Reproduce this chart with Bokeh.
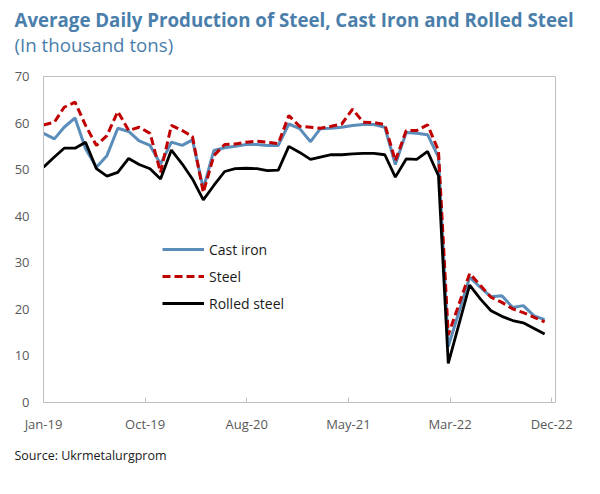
import pandas as pd
from bokeh.plotting import figure
from bokeh.models import Range1d, FixedTicker, DatetimeTickFormatter, Title, Legend, LegendItem
from bokeh.embed import file_html
from bokeh.resources import INLINE

# Monthly observations (April 2022 is not plotted in the source: the lines run straight from Mar-22 to May-22)
months = [
    "2019-01", "2019-02", "2019-03", "2019-04", "2019-05", "2019-06", "2019-07", "2019-08", "2019-09", "2019-10", "2019-11", "2019-12",
    "2020-01", "2020-02", "2020-03", "2020-04", "2020-05", "2020-06", "2020-07", "2020-08", "2020-09", "2020-10", "2020-11", "2020-12",
    "2021-01", "2021-02", "2021-03", "2021-04", "2021-05", "2021-06", "2021-07", "2021-08", "2021-09", "2021-10", "2021-11", "2021-12",
    "2022-01", "2022-02", "2022-03", "2022-05", "2022-06", "2022-07", "2022-08", "2022-09", "2022-10", "2022-11", "2022-12",
]

cast_iron = [
    57.8, 56.6, 59.1, 61.1, 54.5, 50.5, 53.0, 58.9, 58.2, 56.2, 55.2, 51.2,
    55.9, 55.2, 56.4, 45.9, 54.1, 54.7, 55.0, 55.4, 55.4, 55.2, 55.2, 59.8,
    58.8, 56.0, 58.8, 58.9, 59.1, 59.5, 59.7, 59.7, 59.1, 51.1, 58.0, 57.8,
    57.5, 52.7, 12.0, 26.9, 24.7, 22.7, 22.9, 20.4, 20.8, 18.6, 17.8,
]

steel = [
    59.6, 60.2, 63.4, 64.5, 59.5, 55.2, 57.3, 62.5, 58.4, 59.1, 57.8, 49.4,
    59.5, 58.4, 57.1, 45.1, 53.0, 55.4, 55.5, 55.9, 56.1, 55.9, 55.6, 61.6,
    59.3, 59.1, 58.9, 59.3, 59.8, 63.0, 60.2, 60.1, 59.7, 51.9, 58.4, 58.4,
    59.6, 54.1, 14.5, 27.7, 25.1, 22.6, 21.5, 20.1, 19.3, 18.3, 17.3,
]

rolled_steel = [
    50.5, 52.7, 54.6, 54.6, 55.9, 50.2, 48.6, 49.4, 52.4, 51.1, 50.2, 48.0,
    54.2, 51.2, 48.0, 43.5, 46.6, 49.6, 50.2, 50.3, 50.2, 49.8, 49.9, 55.0,
    53.7, 52.2, 52.7, 53.2, 53.2, 53.4, 53.5, 53.5, 53.2, 48.4, 52.3, 52.2,
    53.9, 48.7, 8.4, 25.2, 22.2, 19.7, 18.5, 17.6, 17.1, 15.9, 14.7,
]

x_tick_dates = ["2019-01-01", "2019-10-18", "2020-08-03", "2021-05-20", "2022-03-06", "2022-12-21"]
y_ticks = [0, 10, 20, 30, 40, 50, 60, 70]

dates = pd.to_datetime(months)
tick_ms = [pd.Timestamp(d).value / 1e6 for d in x_tick_dates]

FONT = "Open Sans"
TITLE_COLOR = "#4a7eab"

p = figure(
    width=584, height=478,
    x_axis_type="datetime",
    x_range=Range1d(pd.Timestamp("2019-01-01").value / 1e6, pd.Timestamp("2023-01-01").value / 1e6),
    y_range=Range1d(0, 70),
    output_backend="svg", toolbar_location=None,
    min_border_left=43, min_border_right=29, min_border_top=76, min_border_bottom=76,
)
p.xgrid.visible = False
p.ygrid.visible = False
p.outline_line_color = "#bfbfbf"
p.outline_line_width = 1

r1 = p.line(dates, cast_iron, line_color="#5b8dbb", line_width=3)
r2 = p.line(dates, steel, line_color="#c00000", line_width=3, line_dash="8 4")
r3 = p.line(dates, rolled_steel, line_color="#000000", line_width=2.8)

xa = p.xaxis[0]
xa.ticker = FixedTicker(ticks=tick_ms)
xa.formatter = DatetimeTickFormatter(
    milliseconds="%b-%y", seconds="%b-%y", minsec="%b-%y", minutes="%b-%y", hourmin="%b-%y",
    hours="%b-%y", days="%b-%y", months="%b-%y", years="%b-%y")
xa.axis_line_color = "#bfbfbf"
xa.major_tick_line_color = "#bfbfbf"
xa.major_tick_in = 5
xa.major_tick_out = 0
xa.minor_tick_line_color = None
xa.major_label_text_font = FONT
xa.major_label_text_font_size = "13px"
xa.major_label_text_color = "#595959"
xa.major_label_standoff = 12

ya = p.yaxis[0]
ya.ticker = FixedTicker(ticks=y_ticks)
ya.axis_line_color = "#bfbfbf"
ya.major_tick_line_color = None
ya.major_tick_in = 0
ya.major_tick_out = 0
ya.minor_tick_line_color = None
ya.major_label_text_font = FONT
ya.major_label_text_font_size = "13px"
ya.major_label_text_color = "#595959"
ya.major_label_standoff = 14

legend = Legend(
    items=[LegendItem(label="Cast iron", renderers=[r1]),
           LegendItem(label="Steel", renderers=[r2]),
           LegendItem(label="Rolled steel", renderers=[r3])],
    location=(119, 89),
    glyph_width=42, glyph_height=20, label_height=20, spacing=7,
    padding=0, margin=0, label_standoff=5,
    border_line_alpha=0, background_fill_alpha=0,
    label_text_font=FONT, label_text_font_size="14px", label_text_color="#1a1a1a",
)
p.add_layout(legend, "center")

# above panel is stacked from the frame outward: spacer, subtitle, main title
p.add_layout(Title(text=" ", align="left", standoff=4, text_font=FONT,
                   text_font_size="10px"), "above")
p.add_layout(Title(text="(In thousand tons)", align="left", offset=-29, standoff=0,
                   text_font=FONT, text_font_size="18.7px", text_font_style="normal",
                   text_color=TITLE_COLOR), "above")
p.add_layout(Title(text="Average Daily Production of Steel, Cast Iron and Rolled Steel",
                   align="left", offset=-29, standoff=-5.6,
                   text_font=FONT, text_font_size="18.7px", text_font_style="bold",
                   text_color=TITLE_COLOR), "above")
p.add_layout(Title(text="Source: Ukrmetalurgprom", align="left", offset=-29, standoff=18,
                   text_font=FONT, text_font_size="12.5px", text_font_style="normal",
                   text_color="#1a1a1a"), "below")

open("out.html", "w").write(file_html(p, INLINE))
